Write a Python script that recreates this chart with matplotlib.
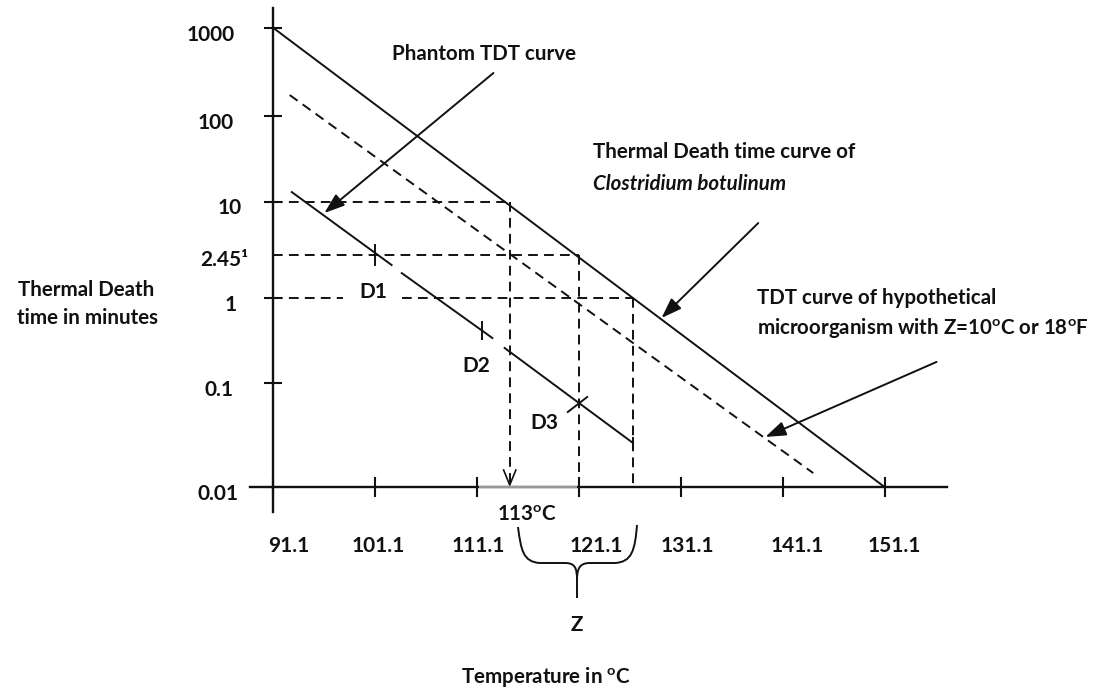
import numpy as np
import matplotlib
matplotlib.use("Agg")
import matplotlib.pyplot as plt
from matplotlib.transforms import ScaledTranslation
from matplotlib.path import Path
from matplotlib.patches import PathPatch

plt.rcParams['font.family'] = ['Lato', 'DejaVu Sans']
plt.rcParams['mathtext.fontset'] = 'custom'
plt.rcParams['mathtext.rm'] = 'Lato'
plt.rcParams['mathtext.it'] = 'Lato:italic'
plt.rcParams['mathtext.bf'] = 'Lato:bold'

# ------------------------------------------------------------------ data
temp_ticks = [91.1, 101.1, 111.1, 121.1, 131.1, 141.1, 151.1]
temp_tick_labels = ['91.1', '101.1', '111.1', '121.1', '131.1', '141.1', '151.1']
time_ticks = [0.01, 0.1, 1, 10, 100, 1000]
time_tick_labels = ['0.01', '0.1', '1', '10', '100', '1000']
d_value = 2.45
d_label = '2.45\u00b9'

# Thermal death time curve of Clostridium botulinum
cbot_temp = [91.1, 151.1]
cbot_time = [1000, 0.01]
# TDT curve of hypothetical microorganism (dashed)
hyp_temp = [92.7, 144.1]
hyp_time = [173, 0.0136]
# Phantom TDT curve: three pieces separated by gaps (D1, D2, D3)
phantom_temp = [[92.9, 102.7], [103.7, 112.6], [113.8, 126.4]]
phantom_time = [[12.9, 1.99], [1.68, 0.338], [0.258, 0.0265]]
# short marks across the phantom curve
mark_temp = [[101.1, 101.1], [111.6, 111.6], [120.0, 121.9], [126.4, 126.4]]
mark_time = [[3.19, 1.99], [0.523, 0.330], [0.0526, 0.0733], [0.0296, 0.0237]]
# reading lines: time level -> temperature where it is read
ref_times = [10, 2.45, 1]
ref_temps = [114.3, 121.1, 126.4]
ref_gap = [97.9, 103.7]          # gap in the 1-minute line around "D1"
arrow_tip_time = 0.01045          # 113 C reading arrow tip
# annotation arrows: (start temp, start time) -> (tip temp, tip time)
arrow_start = [(112.7, 308), (138.7, 5.68), (156.2, 0.177)]
arrow_tip = [(96.1, 7.39), (129.2, 0.582), (139.4, 0.0303)]

# ------------------------------------------------------------------ scale
# hand-drawn spacing of the decades on the time axis (pixels at 100 dpi)
LOGS = [-2, -1, 0, np.log10(2.45), 1, 2, 3]
POS = [0, 104, 189, 232, 285.5, 371, 459]
L_EXT = [-12] + LOGS + [12]
P_EXT = [POS[0] - 10 * 104] + POS + [POS[-1] + 9 * 88]


def fwd(y):
    y = np.asarray(y, dtype=float)
    return np.interp(np.log10(np.clip(y, 1e-12, None)), L_EXT, P_EXT)


def inv(p):
    p = np.asarray(p, dtype=float)
    return 10 ** np.interp(p, P_EXT, L_EXT)


W, H = 1098, 689
fig = plt.figure(figsize=(W / 100, H / 100), dpi=100)
ax = fig.add_axes([0, 0, 1, 1])
ax.set_yscale('function', functions=(fwd, inv))
px_per_deg = 10.186
ax.set_xlim(121.1 - 579 / px_per_deg, 121.1 + (W - 579) / px_per_deg)
ax.set_ylim(float(inv(-(H - 487))), float(inv(487)))

K = '#111111'
LW = 1.4
DASH = (0, (5.0, 3.2))

# axes lines
for s in ['top', 'right']:
    ax.spines[s].set_visible(False)
ax.spines['left'].set_position(('data', 91.1))
ax.spines['bottom'].set_position(('data', 0.01))
ax.spines['left'].set_bounds(0.00575, 1688)
ax.spines['bottom'].set_bounds(88.8, 157.2)
for s in ['left', 'bottom']:
    ax.spines[s].set_linewidth(1.7)
    ax.spines[s].set_color(K)
ax.plot([111.3, 120.9], [0.01, 0.01], color='#a8a8a8', lw=1.3, zorder=3,
        solid_capstyle='butt')

ax.set_xticks(temp_ticks)
ax.set_xticklabels(temp_tick_labels)
ax.set_yticks(time_ticks)
ax.set_yticklabels(time_tick_labels)
ax.set_yticks([d_value], minor=True)
ax.set_yticklabels([d_label], minor=True)
ax.set_xticks([], minor=True)
ax.tick_params(axis='x', which='major', direction='inout', length=14.4, width=1.5,
               pad=28, labelsize=15, colors=K)
ax.tick_params(axis='y', which='major', direction='inout', length=13, width=1.5,
               pad=20, labelsize=15, colors=K)
ax.tick_params(axis='y', which='minor', length=0, pad=26.5, labelsize=15, colors=K)
for lab in ax.get_xticklabels() + ax.get_yticklabels() + ax.get_yticklabels(minor=True):
    lab.set_fontweight('bold')

x_dx = [15, 3, 1, 17, 6, 14, 10]
for lab, dx in zip(ax.get_xticklabels(), x_dx):
    lab.set_transform(lab.get_transform() + ScaledTranslation(dx / 100, 0, fig.dpi_scale_trans))
y_dx = [2, -3, 0, 5, -3, -2]
for lab, dx in zip(ax.get_yticklabels(), y_dx):
    lab.set_transform(lab.get_transform() + ScaledTranslation(dx / 100, -5 / 100, fig.dpi_scale_trans))
for lab in ax.get_yticklabels(minor=True):
    lab.set_transform(lab.get_transform() + ScaledTranslation(12 / 100, -3 / 100, fig.dpi_scale_trans))

# curves
ax.plot(cbot_temp, cbot_time, color=K, lw=LW)
ax.plot(hyp_temp, hyp_time, color=K, lw=LW, ls=DASH)
for tt, yy in zip(phantom_temp, phantom_time):
    ax.plot(tt, yy, color=K, lw=LW)
for tt, yy in zip(mark_temp, mark_time):
    ax.plot(tt, yy, color=K, lw=LW)

# reading lines
for i, (yt, xt) in enumerate(zip(ref_times, ref_temps)):
    if yt == 1:
        ax.plot([91.1, ref_gap[0]], [yt, yt], color=K, lw=LW, ls=DASH)
        ax.plot([ref_gap[1], xt], [yt, yt], color=K, lw=LW, ls=DASH)
    else:
        ax.plot([91.1, xt], [yt, yt], color=K, lw=LW, ls=DASH)
    bottom = arrow_tip_time if i == 0 else 0.01
    ax.plot([xt, xt], [yt, bottom], color=K, lw=LW, ls=DASH)
# open arrow head of the 113 C reading
ax.plot([ref_temps[0] - 0.6, ref_temps[0], ref_temps[0] + 0.6],
        [0.01456, arrow_tip_time, 0.01456], color=K, lw=1.2)

# annotation arrows
for (x0, y0), (x1, y1) in zip(arrow_start, arrow_tip):
    ax.annotate('', xy=(x1, y1), xytext=(x0, y0),
                arrowprops=dict(arrowstyle='-|>,head_length=0.62,head_width=0.22',
                                color=K, lw=LW, mutation_scale=20,
                                shrinkA=0, shrinkB=0))


def fp(x, y):
    return (x / W, 1 - y / H)


TXT = dict(fontsize=14.8, color=K, fontweight='bold')
fig.text(*fp(392, 54), 'Phantom TDT curve', ha='left', va='center', **TXT)
fig.text(*fp(593, 152), 'Thermal Death time curve of', ha='left', va='center', **TXT)
fig.text(*fp(593, 184), 'Clostridium botulinum', ha='left', va='center',
         style='italic', **TXT)
fig.text(*fp(757, 298), 'TDT curve of hypothetical', ha='left', va='center', **TXT)
fig.text(*fp(757, 328), r'microorganism with Z=10$^{\mathbf{o}}$C or 18$^{\mathbf{o}}$F',
         ha='left', va='center', **TXT)
fig.text(*fp(18, 290), 'Thermal Death', ha='left', va='center', **TXT)
fig.text(*fp(17, 318), 'time in minutes', ha='left', va='center', **TXT)
DTXT = dict(fontsize=15, color=K, fontweight='bold')
fig.text(*fp(373, 292), 'D1', ha='center', va='center', **DTXT)
fig.text(*fp(476, 366), 'D2', ha='center', va='center', **DTXT)
fig.text(*fp(544, 423), 'D3', ha='center', va='center', **DTXT)
fig.text(*fp(527, 515), r'113$^{\mathbf{o}}$C', ha='center', va='center', **TXT)
fig.text(*fp(577, 625), 'Z', ha='center', va='center', **TXT)
fig.text(*fp(546, 677), r'Temperature in $^{\mathbf{o}}$C', ha='center', va='center', **TXT)

# brace spanning 113 C .. 121.1 (Z)
brace_px = [
    [(518, 527), (521, 550), (523, 562), (540, 563), (565, 563), (575, 563), (577, 568), (577, 580), (577, 598)],
    [(637, 525), (635, 550), (632, 562), (615, 563), (590, 563), (580, 563), (577, 568), (577, 580)],
]
codes_l = [Path.MOVETO, Path.CURVE4, Path.CURVE4, Path.CURVE4, Path.LINETO,
           Path.CURVE4, Path.CURVE4, Path.CURVE4, Path.LINETO]
codes_r = codes_l[:-1]
for pts, codes in zip(brace_px, [codes_l, codes_r]):
    verts = [fp(x, y) for x, y in pts]
    fig.add_artist(PathPatch(Path(verts, codes), transform=fig.transFigure,
                             fill=False, lw=1.4, edgecolor=K))

fig.savefig('out.png', dpi=100, facecolor='white')
